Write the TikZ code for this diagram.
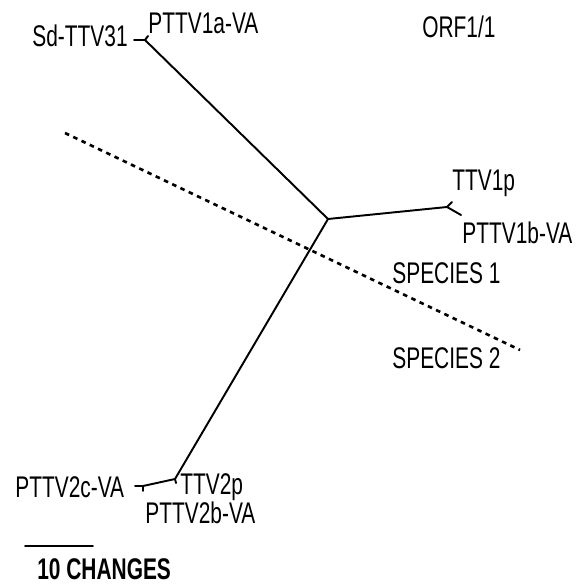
\documentclass[tikz,border=0pt]{standalone}
\usepackage{xcolor}
\usepackage{fontspec}
\setmainfont{Liberation Sans}[FakeStretch=0.70]
\usepackage{tikz}
\usetikzlibrary{arrows,shapes,chains}

\begin{document}
\begin{tikzpicture}[x=0.02cm,y=-0.02cm]
    \fontsize{17pt}{19pt}\selectfont  % font size
    \tikzstyle{taxon}=[inner sep=0pt,anchor=base west]  % leaf names
    \tikzstyle{branch}=[line width=1.1pt,line cap=round,line join=round]  % tree edges
    \tikzstyle{divide}=[line width=1.5pt,dash pattern=on 2.6pt off 2.6pt]  % species border
    \useasboundingbox (0,0) rectangle (578,587);

    % inner points of the tree
    \coordinate (c) at (328,219);
    \coordinate (j1) at (145,40);
    \coordinate (j2) at (447,207);
    \coordinate (j3) at (175,479);
    \coordinate (j4) at (143,486);
    % leaf ends
    \coordinate (sd) at (134,40);
    \coordinate (p1a) at (148,36);
    \coordinate (t1p) at (452,202);
    \coordinate (p1b) at (461,215);
    \coordinate (t2p) at (176,483);
    \coordinate (p2c) at (135,486);
    \coordinate (p2b) at (143,491);
    % border line
    \coordinate (d0) at (65,133);
    \coordinate (d1) at (520,350);
    % scale bar
    \coordinate (s0) at (25,546);
    \coordinate (s1) at (93,546);

    % names
    \node[taxon,anchor=base east](sdn) at (128,47){Sd-TTV31};
    \node[taxon](p1an) at (148,34){PTTV1a-VA};
    \node[taxon](orf) at (422,38){ORF1/1};
    \node[taxon](t1pn) at (452,191){TTV1p};
    \node[taxon](p1bn) at (462,243){PTTV1b-VA};
    \node[taxon](sp1) at (392,283){SPECIES 1};
    \node[taxon](sp2) at (392,368){SPECIES 2};
    \node[taxon](p2cn) at (15,497){PTTV2c-VA};
    \node[taxon](t2pn) at (180,494){TTV2p};
    \node[taxon](p2bn) at (145,523){PTTV2b-VA};
    \node[taxon](bar) at (37,579){\bfseries 10 CHANGES};

    % start drawing lines
    \draw[branch](c)--(j1);
    \draw[branch](c)--(j2);
    \draw[branch](c)--(j3);
    \draw[branch](j1)--(sd);
    \draw[branch](j1)--(p1a);
    \draw[branch](j2)--(t1p);
    \draw[branch](j2)--(p1b);
    \draw[branch](j3)--(t2p);
    \draw[branch](j3)--(j4);
    \draw[branch](j4)--(p2c);
    \draw[branch](j4)--(p2b);
    \draw[divide](d0)--(d1);
    \draw[branch](s0)--(s1);
\end{tikzpicture}
\end{document}
